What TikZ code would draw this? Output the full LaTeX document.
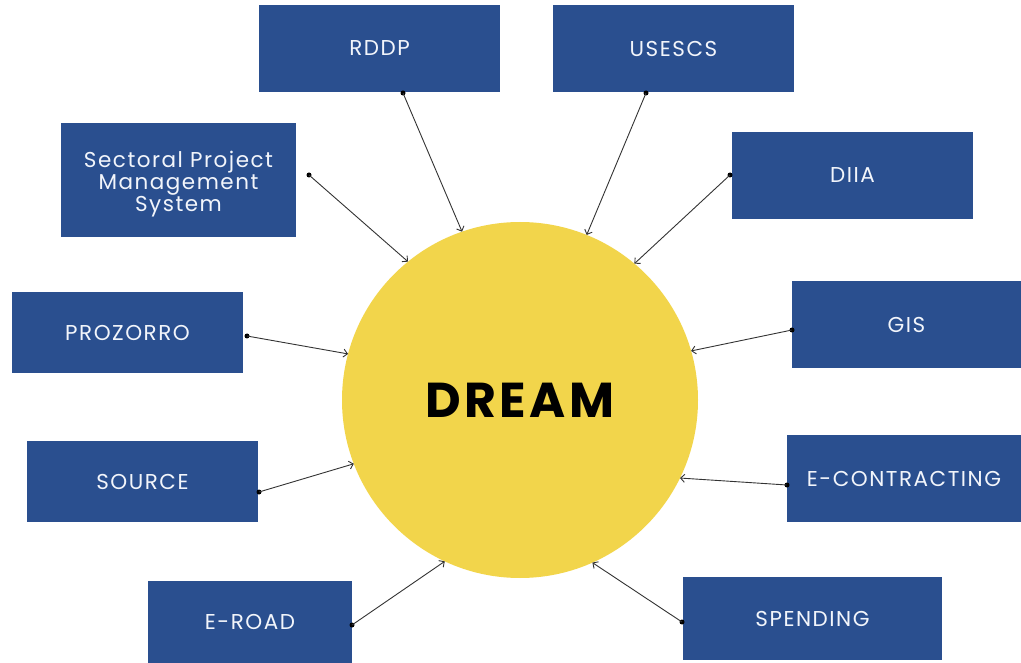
\documentclass[tikz,border=0pt]{standalone}
\usepackage{fontspec}
\setmainfont{Poppins}[LetterSpace=7]
\usetikzlibrary{arrows.meta}
\definecolor{boxblue}{HTML}{2A4F8F}
\definecolor{dreamyellow}{HTML}{F2D54B}
\definecolor{boxtext}{HTML}{F2F5FB}
\definecolor{linecol}{HTML}{333333}
\tikzset{
  boxfont/.style={text=boxtext, align=center, font=\fontsize{21.5}{22}\selectfont},
  sysbox/.style={rectangle, fill=boxblue, draw=none, inner sep=0pt, outer sep=0pt, boxfont},
  multilabel/.style={boxfont, inner sep=0pt, yshift=-4pt},
  hub/.style={circle, fill=dreamyellow, draw=none, minimum size=356pt, inner sep=0pt, outer sep=0pt,
    font=\fontsize{49}{50}\selectfont\bfseries},
  dot/.style={circle, fill=black, inner sep=0pt, minimum size=5pt},
  conn/.style={draw=linecol, line width=0.9pt, -{Straight Barb[length=4pt,width=8pt]}}
}
\begin{document}
\begin{tikzpicture}[x=1pt,y=-1pt]
\useasboundingbox (0,0) rectangle (1021,663);
\node[hub] (dream) at (520,400) {DREAM};

\node[sysbox, minimum width=241pt, minimum height=87pt] (rddp) at (379.5,48.5) {RDDP};
\node[sysbox, minimum width=241pt, minimum height=87pt] (usescs) at (673.5,48.5) {USESCS};
\node[sysbox, minimum width=235pt, minimum height=114pt,
  label={[multilabel]center:{Sectoral Project\\Management\\System}}] (spms) at (178.5,180) {};
\node[sysbox, minimum width=241pt, minimum height=87pt] (diia) at (852.5,175.5) {DIIA};
\node[sysbox, minimum width=231pt, minimum height=81pt] (prozorro) at (127.5,332.5) {PROZORRO};
\node[sysbox, minimum width=229pt, minimum height=87pt] (gis) at (906.5,324.5) {GIS};
\node[sysbox, minimum width=231pt, minimum height=81pt] (source) at (142.5,481.5) {SOURCE};
\node[sysbox, minimum width=234pt, minimum height=87pt] (econtr) at (904,478.5) {E-CONTRACTING};
\node[sysbox, minimum width=204pt, minimum height=82pt] (eroad) at (250,622) {E-ROAD};
\node[sysbox, minimum width=259pt, minimum height=83pt] (spending) at (812.5,618.5) {SPENDING};

\node[dot] (d1) at (403,93) {};
\node[dot] (d2) at (646,93) {};
\node[dot] (d3) at (309,175) {};
\node[dot] (d4) at (730,175) {};
\node[dot] (d5) at (247,336) {};
\node[dot] (d6) at (792,330) {};
\node[dot] (d7) at (259,492) {};
\node[dot] (d8) at (787,485) {};
\node[dot] (d9) at (352,625) {};
\node[dot] (d10) at (682,622) {};

\draw[conn] (d1.center) -- (dream.109);
\draw[conn] (d2.center) -- (dream.68.4);
\draw[conn] (d3.center) -- (dream.129.6);
\draw[conn] (d4.center) -- (dream.50.4);
\draw[conn] (d5.center) -- (dream.165.8);
\draw[conn] (d6.center) -- (dream.16.2);
\draw[conn] (d7.center) -- (dream.201.4);
\draw[conn] (d8.center) -- (dream.334.7);
\draw[conn] (d9.center) -- (dream.245.9);
\draw[conn] (d10.center) -- (dream.294.1);
\end{tikzpicture}
\end{document}
